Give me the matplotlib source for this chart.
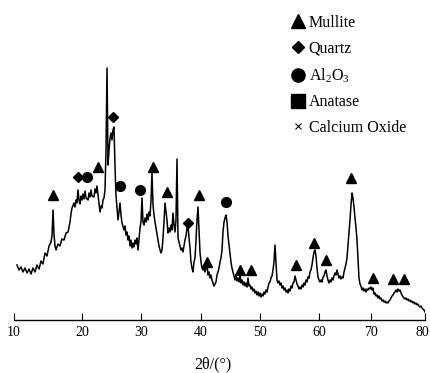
import numpy as np
import matplotlib
matplotlib.use('Agg')
import matplotlib.pyplot as plt
from matplotlib.lines import Line2D
from matplotlib.transforms import ScaledTranslation

plt.rcParams['font.family'] = ['Liberation Serif', 'DejaVu Serif']
plt.rcParams['mathtext.default'] = 'regular'

# XRD pattern (2theta in degrees, intensity in arbitrary units)
two_theta = [
    10.44, 10.74, 11.03, 11.32, 11.62, 11.91, 12.21, 12.50, 12.79, 13.09, 13.38, 13.68, 13.97, 14.26,
    14.56, 14.85, 15.15, 15.44, 15.59, 15.74, 15.88, 16.03, 16.18, 16.47, 16.76, 17.06, 17.35, 17.65,
    17.94, 18.24, 18.38, 18.53, 18.82, 18.97, 19.12, 19.26, 19.41, 19.56, 19.71, 19.85, 20.00,
    20.17, 20.34, 20.51, 20.68, 21.02, 21.19, 21.36, 21.53, 21.69, 22.03, 22.20, 22.37, 22.54, 22.71,
    22.88, 23.05, 23.22, 23.39, 23.56, 23.73, 23.90, 24.07, 24.24, 24.41, 24.58, 24.75, 24.92, 25.08,
    25.25, 25.42, 25.59, 25.76, 25.93, 26.10, 26.27, 26.44, 26.61, 26.78, 27.12, 27.29, 27.46, 27.63,
    27.80, 27.97, 28.14, 28.31, 28.47, 28.64, 28.81, 28.98, 29.15, 29.32, 29.49, 29.66, 29.83, 30.00,
    30.17, 30.33, 30.50, 30.67, 30.83, 31.00, 31.17, 31.33, 31.50, 31.67, 31.83, 32.00, 32.17, 32.33,
    32.50, 32.67, 32.83, 33.00, 33.17, 33.33, 33.50, 33.67, 33.83, 34.00, 34.17, 34.33, 34.50, 34.67,
    34.83, 35.00, 35.17, 35.33, 35.50, 35.67, 35.83, 36.00, 36.17, 36.33, 36.50, 36.67, 36.83, 37.00,
    37.17, 37.33, 37.50, 37.67, 37.83, 38.00, 38.17, 38.33, 38.50, 38.67, 38.83, 39.00, 39.17, 39.33,
    39.50, 39.67, 39.83, 40.00,
    40.17, 40.34, 40.51, 40.68, 40.85, 41.02, 41.19, 41.36, 41.53, 41.69, 41.86, 42.03, 42.20, 42.37,
    42.54, 42.71, 42.88, 43.05, 43.22, 43.39, 43.56, 43.73, 43.90, 44.07, 44.24, 44.41, 44.58, 44.75,
    44.92, 45.08, 45.25, 45.42, 45.59, 45.76, 45.93, 46.10, 46.27, 46.44, 46.61, 46.78, 46.95, 47.12,
    47.29, 47.46, 47.63, 47.80, 47.97, 48.14, 48.31, 48.47, 48.64, 48.81, 48.98, 49.15, 49.32, 49.49,
    49.66, 49.83, 50.00,
    50.17, 50.34, 50.51, 50.68, 50.85, 51.02, 51.19, 51.36, 51.53, 51.69, 51.86, 52.03, 52.20, 52.37,
    52.54, 52.71, 52.88, 53.05, 53.22, 53.39, 53.56, 53.73, 53.90, 54.07, 54.24, 54.41, 54.58, 54.75,
    54.92, 55.08, 55.25, 55.42, 55.59, 55.76, 55.93, 56.10, 56.27, 56.44, 56.61, 56.78, 56.95, 57.12,
    57.29, 57.46, 57.63, 57.80, 57.97, 58.14, 58.31, 58.47, 58.64, 58.81, 58.98, 59.15, 59.32, 59.49,
    59.66, 59.83, 60.00,
    60.19, 60.38, 60.58, 60.77, 60.96, 61.15, 61.35, 61.54, 61.73, 61.92, 62.12, 62.31, 62.50, 62.69,
    62.88, 63.08, 63.27, 63.46, 63.65, 63.85, 64.04, 64.23, 64.42, 64.62, 64.81, 65.00, 65.19, 65.38,
    65.58, 65.77, 65.96, 66.15, 66.35, 66.54, 66.73, 66.92, 67.12, 67.31, 67.50, 67.69, 67.88, 68.08,
    68.27, 68.46, 68.65, 68.85, 69.04, 69.23, 69.42, 69.62, 69.81, 70.00,
    70.19, 70.37, 70.56, 70.74, 70.93, 71.11, 71.30, 71.48, 71.67, 71.85, 72.04, 72.22, 72.41, 72.59,
    72.78, 72.96, 73.15, 73.33, 73.52, 73.70, 73.89, 74.07, 74.26, 74.44, 74.63, 74.81, 75.00, 75.19,
    75.37, 75.56, 75.74, 75.93, 76.11, 76.30, 76.48, 76.67, 76.85, 77.04, 77.22, 77.41, 77.59, 77.78,
    77.96, 78.15, 78.33, 78.52, 78.70, 78.89, 79.07, 79.26, 79.44, 79.63, 79.81, 80.00,
]
intensity = [
    55, 50, 53, 48, 52, 47, 51, 46, 52, 48, 55, 51, 59, 56,
    67, 64, 74, 78, 84, 110, 86, 74, 70, 76, 74, 81, 80, 87,
    88, 98, 106, 112, 117, 113, 120, 117, 130, 120, 116, 124, 120,
    126, 121, 129, 122, 120, 127, 123, 130, 124, 123, 131, 127, 134, 125,
    115, 108, 114, 112, 120, 122, 130, 170, 252, 155, 170, 182, 187, 180,
    190, 193, 155, 125, 113, 100, 108, 117, 105, 97, 90, 94, 85, 88,
    80, 84, 74, 80, 72, 77, 73, 80, 76, 82, 70, 80, 92, 98,
    122, 98, 95, 102, 98, 106, 100, 108, 104, 120, 147, 115, 105, 98,
    92, 86, 80, 74, 70, 67, 70, 82, 98, 117, 108, 100, 87, 92,
    88, 95, 90, 107, 95, 88, 100, 161, 82, 78, 74, 70, 72, 68,
    74, 80, 84, 92, 95, 82, 72, 58, 52, 48, 58, 62, 80, 100,
    113, 90, 68, 58,
    52, 50, 54, 48, 52, 56, 45, 48, 42, 45, 40, 37, 34, 36,
    38, 45, 48, 52, 58, 62, 70, 88, 98, 102, 105, 98, 84, 75,
    65, 58, 52, 48, 44, 40, 44, 39, 42, 38, 46, 37, 40, 35,
    38, 34, 37, 33, 42, 34, 35, 31, 33, 29, 31, 27, 29, 25,
    28, 24, 27,
    23, 26, 24, 28, 26, 30, 28, 33, 37, 38, 42, 44, 50, 58,
    75, 58, 40, 37, 39, 35, 37, 32, 34, 30, 32, 28, 30, 27,
    31, 29, 34, 32, 37, 38, 44, 40, 36, 34, 31, 33, 31, 35,
    33, 37, 35, 40, 38, 43, 42, 48, 50, 55, 62, 68, 70, 64,
    52, 43, 40,
    38, 40, 38, 43, 44, 48, 50, 44, 40, 37, 40, 38, 42, 40,
    44, 47, 45, 50, 46, 42, 44, 41, 43, 42, 48, 52, 56, 62,
    75, 88, 100, 115, 127, 122, 113, 102, 92, 80, 60, 42, 36, 34,
    30, 32, 29, 31, 28, 31, 30, 32, 31, 33,
    30, 32, 26, 27, 24, 25, 22, 24, 21, 22, 19, 20, 18, 19,
    17, 18, 17, 19, 20, 22, 24, 25, 27, 28, 30, 28, 31, 29,
    30, 27, 25, 23, 22, 21, 22, 20, 21, 19, 20, 18, 19, 17,
    18, 16, 17, 15, 16, 14, 13, 14, 12, 11, 10, 8,
]

# phase identification marks
mullite_x = [15.74, 22.71, 32.00, 34.33, 39.67, 41.02, 46.61, 48.47, 56.10, 59.15, 61.35, 66.15, 70.37, 74.07, 76.11]
mullite_y = [125, 153, 153, 128, 125, 58, 50, 50, 55, 77, 60, 142, 42, 41, 41]
quartz_x = [19.41, 25.25, 37.83]
quartz_y = [143, 203, 97]
alumina_x = [20.85, 26.44, 29.83, 44.24]
alumina_y = [143, 134, 130, 118]

xticks = [10, 20, 30, 40, 50, 60, 70, 80]
# the printed axis is not evenly spaced, so use a piecewise scale matching it
tick_pos = [14, 82, 141, 201, 260, 319, 371, 425]

def fwd(v):
    return np.interp(v, xticks, tick_pos)

def inv(p):
    return np.interp(p, tick_pos, xticks)

fig = plt.figure(figsize=(4.3, 3.73), dpi=100)
ax = fig.add_axes([14 / 430, 53 / 373, 411 / 430, 320 / 373])
ax.set_xscale('function', functions=(fwd, inv))

ax.plot(two_theta, intensity, color='black', lw=1.1)
ax.plot(mullite_x, mullite_y, '^', color='black', ms=7.5, ls='none')
ax.plot(quartz_x, quartz_y, 'D', color='black', ms=4.8, ls='none')
ax.plot(alumina_x, alumina_y, 'o', color='black', ms=7, ls='none')

ax.set_xlim(10, 80)
ax.set_ylim(0, 320)
ax.set_xticks(xticks)
ax.set_xticklabels([str(t) for t in xticks])
ax.minorticks_off()
ax.tick_params(axis='x', direction='in', length=5, width=0.8, labelsize=10, pad=4)
ax.set_yticks([])
for s in ['top', 'right', 'left']:
    ax.spines[s].set_visible(False)
ax.spines['bottom'].set_linewidth(1.0)
ax.set_xlabel('2θ/(°)', fontsize=11.5)
ax.xaxis.set_label_coords(0.484, -0.115)

# last tick label sits at the figure edge; nudge it in a little
last = ax.get_xticklabels()[-1]
last.set_transform(last.get_transform() + ScaledTranslation(-0.03, 0, fig.dpi_scale_trans))

handles = [
    Line2D([], [], marker='^', ls='none', color='black', ms=9.5),
    Line2D([], [], marker='D', ls='none', color='black', ms=6.2),
    Line2D([], [], marker='o', ls='none', color='black', ms=9.5),
    Line2D([], [], marker='s', ls='none', color='black', ms=10),
    Line2D([], [], marker='x', ls='none', color='black', ms=4.5, mew=0.8),
]
labels = ['Mullite', 'Quartz', 'Al$_2$O$_3$', 'Anatase', 'Calcium Oxide']
ax.legend(handles, labels, loc='upper left', bbox_to_anchor=(291 / 430, 1 - 15 / 373),
          bbox_transform=fig.transFigure, frameon=False, fontsize=11.5,
          handlelength=0.9, handletextpad=0.2, labelspacing=0.6,
          borderaxespad=0, borderpad=0)

fig.savefig('out.png', dpi=100)
